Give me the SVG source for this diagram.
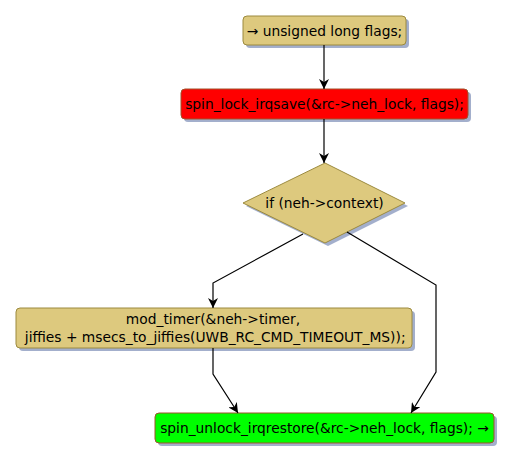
<svg xmlns="http://www.w3.org/2000/svg" width="513" height="462" viewBox="0 0 513 462">
<defs>
<style>
.node{fill:#DDC97E;stroke:#9C8A3E;stroke-width:1}
.shadow{fill:#A3AFCC}
.red{fill:#FF0000;stroke:#A0522D;stroke-width:1}
.green{fill:#00FF00;stroke:#A0522D;stroke-width:1}
text{font-family:"DejaVu Sans",sans-serif;font-size:13.8px;fill:#000;text-anchor:middle}
.edge{fill:none;stroke:#000;stroke-width:1.2}
</style>
<marker id="arr" viewBox="0 0 10 10" refX="10" refY="5" markerWidth="10" markerHeight="10" markerUnits="userSpaceOnUse" orient="auto">
<path d="M0,0 L10,5 L0,10 L3,5 Z" fill="#000"/>
</marker>
</defs>
<rect width="513" height="462" fill="#fff"/>
<g id="n1">
<rect class="shadow" x="246" y="19" width="163" height="29" rx="4"/>
<rect class="node" x="243" y="16" width="163" height="29" rx="4"/>
<text x="324.5" y="35.5">→ unsigned long flags;</text>
</g>
<g id="n2">
<rect class="shadow" x="184" y="92" width="287" height="30" rx="4"/>
<rect class="red" x="181" y="89" width="287" height="30" rx="4"/>
<text x="324.5" y="109">spin_lock_irqsave(&amp;rc-&gt;neh_lock, flags);</text>
</g>
<g id="n3">
<polygon class="shadow" points="328,166 408,206 328,246 246,206"/>
<polygon class="node" points="325,163 405,203 325,243 243,203"/>
<text x="324.5" y="208">if (neh-&gt;context)</text>
</g>
<g id="n4">
<rect class="shadow" x="19" y="311" width="396" height="40" rx="4"/>
<rect class="node" x="16" y="308" width="396" height="40" rx="4"/>
<text x="213" y="324">mod_timer(&amp;neh-&gt;timer,</text>
<text x="213" y="342" xml:space="preserve"> jiffies + msecs_to_jiffies(UWB_RC_CMD_TIMEOUT_MS));</text>
</g>
<g id="n5">
<rect class="shadow" x="158" y="416" width="339" height="30" rx="4"/>
<rect class="green" x="155" y="413" width="339" height="30" rx="4"/>
<text x="324.5" y="432.5">spin_unlock_irqrestore(&amp;rc-&gt;neh_lock, flags); →</text>
</g>
<g id="edges">
<path class="edge" d="M324,45 L324,89" marker-end="url(#arr)"/>
<path class="edge" d="M324,119 L324,163" marker-end="url(#arr)"/>
<path class="edge" d="M303,234 L213,283 L213,308" marker-end="url(#arr)"/>
<path class="edge" d="M347,232 L436,285 L436,372 L411,413" marker-end="url(#arr)"/>
<path class="edge" d="M213,348 L213,374 L238,413" marker-end="url(#arr)"/>
</g>
</svg>
